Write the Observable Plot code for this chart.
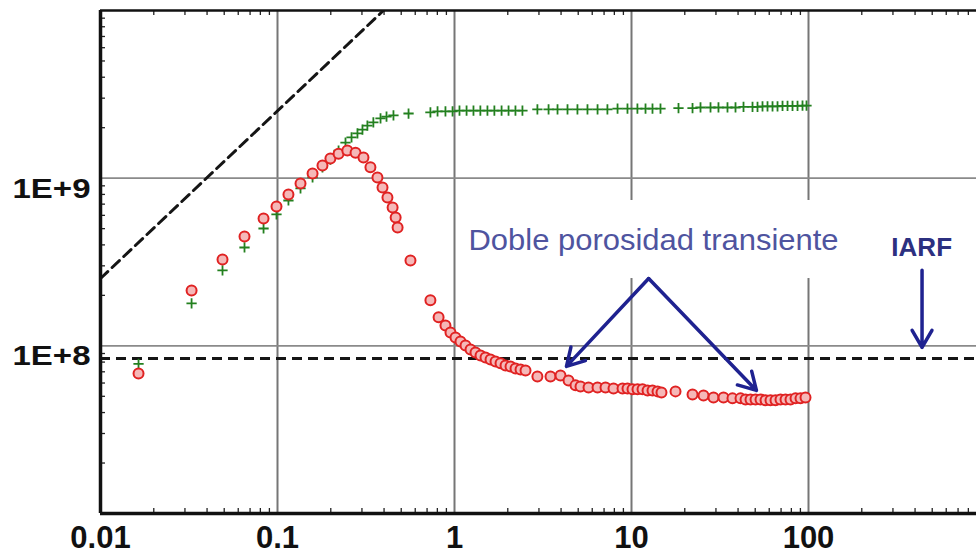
<!DOCTYPE html>
<html>
<head>
<meta charset="utf-8">
<script src="https://cdn.jsdelivr.net/npm/d3@7"></script>
<script src="https://cdn.jsdelivr.net/npm/@observablehq/plot@0.6"></script>
<style>
  html, body { margin: 0; padding: 0; background: #fff; overflow: hidden; }
  #chart svg { display: block; overflow: hidden; }
</style>
</head>
<body>
<div id="chart"></div>
<script>
// ---- Data ----
// Red circles: pressure derivative
const redX = [0.0164, 0.0327, 0.0489, 0.0651, 0.0834, 0.0987, 0.1153, 0.1349, 0.1578, 0.1795,
  0.199, 0.2213, 0.248, 0.276, 0.306, 0.335, 0.367, 0.392, 0.418, 0.447,
  0.465, 0.477, 0.564, 0.731, 0.813, 0.889, 0.949, 1.013, 1.081, 1.154,
  1.232, 1.314, 1.403, 1.497, 1.598, 1.705, 1.820, 1.942, 2.073, 2.212,
  2.361, 2.519, 2.94, 3.486, 3.971, 4.407, 4.826, 5.151, 5.717, 6.428,
  7.131, 7.912, 8.897, 9.493, 10.13, 10.81, 11.54, 12.32, 13.14, 14.03,
  14.77, 17.73, 22.12, 25.52, 29.06, 33.10, 37.19, 41.29, 44.07, 47.02,
  50.19, 53.56, 57.16, 61.00, 65.10, 69.47, 74.15, 79.12, 84.46, 90.12, 96.18];
const redY = [6.85e7, 2.14e8, 3.27e8, 4.49e8, 5.75e8, 6.78e8, 8.0e8, 9.3e8, 1.067e9, 1.19e9,
  1.31e9, 1.40e9, 1.46e9, 1.42e9, 1.33e9, 1.16e9, 1.01e9, 8.8e8, 7.67e8, 6.69e8,
  5.83e8, 5.08e8, 3.23e8, 1.87e8, 1.48e8, 1.32e8, 1.20e8, 1.122e8, 1.062e8, 1.006e8,
  9.52e7, 9.13e7, 8.76e7, 8.53e7, 8.30e7, 8.07e7, 7.86e7, 7.64e7, 7.54e7, 7.33e7,
  7.23e7, 7.13e7, 6.57e7, 6.57e7, 6.66e7, 6.22e7, 5.81e7, 5.73e7, 5.65e7, 5.65e7,
  5.65e7, 5.57e7, 5.57e7, 5.57e7, 5.50e7, 5.50e7, 5.50e7, 5.42e7, 5.42e7, 5.35e7,
  5.27e7, 5.35e7, 5.13e7, 5.06e7, 4.92e7, 4.92e7, 4.86e7, 4.86e7, 4.79e7, 4.79e7,
  4.79e7, 4.79e7, 4.73e7, 4.73e7, 4.73e7, 4.79e7, 4.79e7, 4.79e7, 4.86e7, 4.86e7, 4.92e7];

// Green crosses: pressure change
const greenX = [0.0164, 0.0327, 0.0489, 0.0651, 0.0834, 0.0987, 0.1153, 0.1349, 0.1578, 0.1795,
  0.199, 0.2213, 0.2422, 0.262, 0.283, 0.302, 0.322, 0.348, 0.382, 0.413,
  0.452, 0.550, 0.731, 0.802, 0.889, 0.975, 1.067, 1.17, 1.28, 1.40,
  1.535, 1.68, 1.845, 2.02, 2.21, 2.42, 2.94, 3.40, 3.82, 4.35,
  4.95, 5.64, 6.43, 7.31, 8.34, 9.49, 10.8, 12.0, 13.14, 14.58,
  18.43, 22.12, 24.54, 27.95, 31.00, 34.86, 38.69, 42.94, 48.27, 51.51,
  54.97, 58.67, 62.62, 66.83, 71.32, 76.12, 81.22, 86.69, 92.50, 97.43];
const greenY = [7.8e7, 1.79e8, 2.82e8, 3.86e8, 5.01e8, 6.08e8, 7.36e8, 8.68e8, 1.01e9, 1.16e9,
  1.29e9, 1.46e9, 1.63e9, 1.75e9, 1.85e9, 1.95e9, 2.06e9, 2.15e9, 2.27e9, 2.33e9,
  2.37e9, 2.43e9, 2.47e9, 2.50e9, 2.50e9, 2.50e9, 2.53e9, 2.53e9, 2.53e9, 2.53e9,
  2.53e9, 2.53e9, 2.53e9, 2.53e9, 2.53e9, 2.53e9, 2.57e9, 2.57e9, 2.57e9, 2.57e9,
  2.57e9, 2.57e9, 2.57e9, 2.57e9, 2.60e9, 2.60e9, 2.60e9, 2.60e9, 2.60e9, 2.60e9,
  2.62e9, 2.62e9, 2.64e9, 2.64e9, 2.64e9, 2.64e9, 2.64e9, 2.66e9, 2.66e9, 2.66e9,
  2.68e9, 2.68e9, 2.68e9, 2.68e9, 2.70e9, 2.70e9, 2.70e9, 2.70e9, 2.71e9, 2.71e9];

// Reference lines
const iarfLevel = [8.41e7];           // horizontal dashed line (IARF stabilisation)
const unitSlopeX = [0.01, 0.397];     // wellbore-storage unit slope line
const unitSlopeY = [2.52e8, 1.0e10];

// Axis ticks
const xMajorTicks = [0.01, 0.1, 1, 10, 100];
const xTickLabels = ["0.01", "0.1", "1", "10", "100"];
const xGridLines = [0.1, 1, 10, 100];
const yMajorTicks = [1e8, 1e9];
const yTickLabels = ["1E+8", "1E+9"];
const xMinorTicks = [0.02, 0.03, 0.04, 0.05, 0.06, 0.07, 0.08, 0.09,
  0.2, 0.3, 0.4, 0.5, 0.6, 0.7, 0.8, 0.9,
  2, 3, 4, 5, 6, 7, 8, 9,
  20, 30, 40, 50, 60, 70, 80, 90,
  200, 300, 400, 500, 600, 700, 800, 900];
const yMinorTicks = [2e7, 3e7, 4e7, 5e7, 6e7, 7e7, 8e7, 9e7,
  2e8, 3e8, 4e8, 5e8, 6e8, 7e8, 8e8, 9e8,
  2e9, 3e9, 4e9, 5e9, 6e9, 7e9, 8e9, 9e9];

// Annotations
const noteText = ["Doble porosidad transiente", "IARF"];
const noteX = [1.20, 436];
const noteY = [4.25e8, 3.86e8];
const arrowX1 = [12.5, 12.5, 438];
const arrowY1 = [2.52e8, 2.52e8, 2.82e8];
const arrowX2 = [4.29, 50.8, 438];
const arrowY2 = [7.54e7, 5.42e7, 9.78e7];
const labelBoxX = [1.08, 150];        // white box behind the annotation text
const labelBoxY = [2.52e8, 7.36e8];

// ---- Tables built from the arrays ----
const red = redX.map((x, i) => ({x, y: redY[i]}));
const green = greenX.map((x, i) => ({x, y: greenY[i]}));
const slope = unitSlopeX.map((x, i) => ({x, y: unitSlopeY[i]}));
const notes = noteText.map((t, i) => ({t, x: noteX[i], y: noteY[i]}));
const arrows = arrowX1.map((x1, i) => ({x1, y1: arrowY1[i], x2: arrowX2[i], y2: arrowY2[i]}));
const box = [{x1: labelBoxX[0], x2: labelBoxX[1], y1: labelBoxY[0], y2: labelBoxY[1]}];

const FONT = "'Liberation Sans', Arial, Helvetica, sans-serif";

const plot = Plot.plot({
  width: 976,
  height: 554,
  marginLeft: 100,
  marginRight: -9,
  marginTop: 10,
  marginBottom: 41,
  style: {background: "white", fontFamily: FONT},
  x: {type: "log", domain: [0.01, 1000]},
  y: {type: "log", domain: [1e7, 1e10]},
  marks: [
    Plot.gridX(xGridLines, {stroke: "#767676", strokeOpacity: 1, strokeWidth: 2}),
    Plot.gridY(yMajorTicks, {stroke: "#8a8a8a", strokeOpacity: 1, strokeWidth: 1.6}),
    Plot.rect(box, {x1: "x1", x2: "x2", y1: "y1", y2: "y2", fill: "white"}),
    Plot.ruleY(iarfLevel, {stroke: "#151515", strokeWidth: 3, strokeDasharray: "10,6"}),
    Plot.line(slope, {x: "x", y: "y", stroke: "#151515", strokeWidth: 3, strokeDasharray: "10,6", clip: true}),
    Plot.dot(green, {x: "x", y: "y", symbol: "plus", r: 3.4, stroke: "#23801f", strokeWidth: 1.8}),
    Plot.dot(red, {x: "x", y: "y", r: 5, stroke: "#e02222", fill: "#f5b8b8", strokeWidth: 2}),
    Plot.text(notes.slice(0, 1), {x: "x", y: "y", text: "t", textAnchor: "start", lineAnchor: "middle",
      fontSize: 29, fill: "#4f549f"}),
    Plot.text(notes.slice(1), {x: "x", y: "y", text: "t", textAnchor: "middle", lineAnchor: "middle",
      fontSize: 26, fontWeight: "bold", fill: "#2c3080"}),
    Plot.arrow(arrows, {x1: "x1", y1: "y1", x2: "x2", y2: "y2", stroke: "#1f2290",
      strokeWidth: 3.5, headLength: 8.5, headAngle: 60}),
    // minor ticks (inside the frame)
    Plot.ruleX(xMinorTicks, {stroke: "#222", strokeWidth: 1.3, insetTop: 498}),
    Plot.ruleX(xMinorTicks, {stroke: "#222", strokeWidth: 1.3, insetBottom: 498}),
    Plot.ruleY(yMinorTicks, {stroke: "#222", strokeWidth: 1.3, insetRight: 880}),
    // frame
    Plot.ruleX([0.01], {stroke: "#111", strokeWidth: 3.5}),
    Plot.ruleY([1e7], {stroke: "#111", strokeWidth: 3.5}),
    Plot.ruleY([1e10], {stroke: "#111", strokeWidth: 2.5}),
    // tick labels
    Plot.axisX(xMajorTicks, {tickSize: 0, tickPadding: 12, label: null,
      tickFormat: d => xTickLabels[xMajorTicks.indexOf(d)],
      fontSize: 31, fontWeight: "bold", fill: "#111"}),
    Plot.axisY(yMajorTicks, {tickSize: 0, tickPadding: 10, label: null, dy: 11,
      tickFormat: d => yTickLabels[yMajorTicks.indexOf(d)],
      fontSize: 27, fontWeight: "bold", fill: "#111"})
  ]
});

document.getElementById("chart").appendChild(plot);

// stretch the y tick labels and the annotation horizontally, as in the reference
d3.select(plot).selectAll('g[aria-label="y-axis tick label"] text')
  .attr("textLength", 78).attr("lengthAdjust", "spacingAndGlyphs");
d3.select(plot).selectAll("text")
  .filter(function () { return this.textContent === noteText[0]; })
  .attr("textLength", 370).attr("lengthAdjust", "spacingAndGlyphs");
</script>
</body>
</html>
